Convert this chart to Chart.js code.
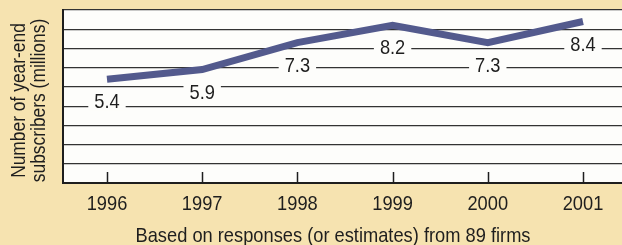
<!DOCTYPE html>
<html>
<head>
<meta charset="utf-8">
<script src="https://cdn.jsdelivr.net/npm/chart.js@4"></script>
<style>
  html, body { margin: 0; padding: 0; background: #f6e3b0; overflow: hidden; }
  #wrap { width: 666px; height: 245px; }
</style>
</head>
<body>
<div id="wrap"><canvas id="subsChart"></canvas></div>
<script>
const years = [1996, 1997, 1998, 1999, 2000, 2001];
const subscribers = [5.4, 5.9, 7.3, 8.2, 7.3, 8.4];
const valueLabels = ["5.4", "5.9", "7.3", "8.2", "7.3", "8.4"];
const yTitle = ["Number of year-end", "subscribers (millions)"];
const xTitle = "Based on responses (or estimates) from 89 firms";

const FONT = "'Liberation Sans', Arial, sans-serif";
const INK = "#1e1e1e";
const PAPER = "#fdfdfb";
const NARROW = 0.87; // squeeze Liberation Sans toward the condensed face of the original

// text squeezed horizontally, optional rotation
function narrowText(ctx, txt, x, y, size, rot = 0) {
  ctx.save();
  ctx.translate(x, y);
  if (rot) ctx.rotate(rot);
  ctx.scale(NARROW, 1);
  ctx.font = size + "px " + FONT;
  ctx.textAlign = "center";
  ctx.textBaseline = "alphabetic";
  ctx.fillStyle = INK;
  ctx.fillText(txt, 0, 0);
  ctx.restore();
}

// white plot area behind the grid
const plotBg = {
  id: "plotBg",
  beforeDraw(chart) {
    const { ctx, chartArea: a } = chart;
    ctx.save();
    ctx.fillStyle = PAPER;
    ctx.fillRect(a.left, a.top, a.right - a.left, a.bottom - a.top);
    ctx.restore();
  }
};

// tick marks pointing up into the plot, year labels and axis titles
const axisText = {
  id: "axisText",
  afterDatasetsDraw(chart) {
    const { ctx, chartArea: a, scales } = chart;
    ctx.save();
    ctx.strokeStyle = INK;
    ctx.lineWidth = 1.5;
    years.forEach(yr => {
      const x = Math.round(scales.x.getPixelForValue(yr)) + 0.5;
      ctx.beginPath();
      ctx.moveTo(x, a.bottom);
      ctx.lineTo(x, a.bottom - 11);
      ctx.stroke();
      narrowText(ctx, String(yr), scales.x.getPixelForValue(yr), a.bottom + 27, 21);
    });
    ctx.restore();

    narrowText(ctx, xTitle, chart.width / 2, a.bottom + 59, 21);

    const cy = (a.top + a.bottom) / 2 + 4;
    narrowText(ctx, yTitle[0], 25, cy, 20, -Math.PI / 2);
    narrowText(ctx, yTitle[1], 45, cy, 20, -Math.PI / 2);
  }
};

// value labels under the line, on a white patch that breaks the grid line
const valueTags = {
  id: "valueTags",
  afterDatasetsDraw(chart) {
    const { ctx } = chart;
    const pts = chart.getDatasetMeta(0).data;
    ctx.save();
    ctx.font = "21px " + FONT;
    pts.forEach((p, i) => {
      const txt = valueLabels[i];
      const w = ctx.measureText(txt).width * NARROW;
      const base = p.y + 29;
      ctx.fillStyle = PAPER;
      ctx.fillRect(p.x - w / 2 - 6, base - 18, w + 12, 20);
      narrowText(ctx, txt, p.x, base, 21);
    });
    ctx.restore();
  }
};

new Chart(document.getElementById("subsChart"), {
  type: "line",
  data: {
    datasets: [{
      data: years.map((yr, i) => ({ x: yr, y: subscribers[i] })),
      borderColor: "#535a8d",
      borderWidth: 7,
      borderJoinStyle: "miter",
      borderCapStyle: "butt",
      pointRadius: 0,
      tension: 0,
      fill: false
    }]
  },
  options: {
    responsive: true,
    maintainAspectRatio: false,
    animation: false,
    layout: { padding: { left: 63, top: 10, right: 0, bottom: 62 } },
    plugins: { legend: { display: false }, tooltip: { enabled: false } },
    scales: {
      x: {
        type: "linear",
        min: 1995.538,
        max: 2001.872,
        afterBuildTicks: s => { s.ticks = years.map(v => ({ value: v })); },
        grid: { display: false, drawTicks: false },
        border: { display: true, color: INK, width: 2 },
        ticks: { display: false }
      },
      y: {
        min: 0,
        max: 9,
        ticks: { display: false, stepSize: 1 },
        grid: { color: "#333", lineWidth: 1.2, drawTicks: false },
        border: { display: true, color: INK, width: 2 }
      }
    }
  },
  plugins: [plotBg, axisText, valueTags]
});
</script>
</body>
</html>
